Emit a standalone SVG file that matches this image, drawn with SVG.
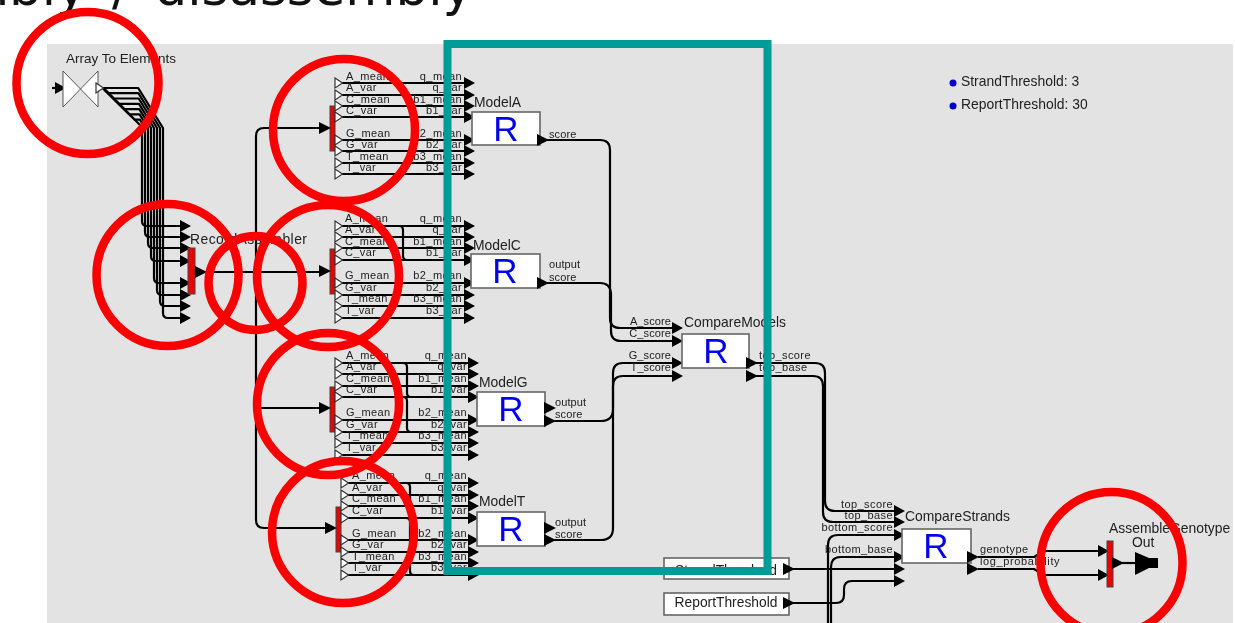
<svg xmlns="http://www.w3.org/2000/svg" width="1235" height="623" viewBox="0 0 1235 623">
<style>
text{font-family:"Liberation Sans",Arial,sans-serif;fill:#222;font-size:11px;letter-spacing:.4px}
.t{font-size:13.9px;letter-spacing:0}
.e{text-anchor:end}
.s{font-size:11px;letter-spacing:.1px}
.r{font-size:35px;fill:#0000f0;text-anchor:middle;letter-spacing:0}
.w{fill:none;stroke:#000;stroke-width:2.2;stroke-linejoin:round}
.box{fill:#fff;stroke:#666;stroke-width:1.6}
.bar{fill:#ee0000;stroke:#444;stroke-width:1}
.wt{fill:#fff;stroke:#333;stroke-width:1.2}
.a{fill:#000}
.ring{fill:none;stroke:#fb0000;stroke-width:8.5}
</style>
<defs>
<polygon id="wt" class="wt" points="0,-5 7.500,0 0,5"/>
<polygon id="bt" class="a" points="0,-6 12,0 0,6"/>
<marker id="m" markerUnits="userSpaceOnUse" markerWidth="12" markerHeight="13" refX="0" refY="6.500" orient="auto" overflow="visible"><path d="M0 0.500L11 6.500L0 12.500Z" fill="#000"/></marker>
<filter id="soft" x="-2%" y="-2%" width="104%" height="104%"><feGaussianBlur stdDeviation="0.45"/></filter>
</defs>
<rect width="1235" height="623" fill="#fff"/>
<rect x="47" y="44" width="1186" height="579" fill="#e3e3e3"/>
<text x="473" y="5" text-anchor="end" style="font-family:'DejaVu Sans',sans-serif;font-size:51.500px;fill:#111;word-spacing:9px;letter-spacing:0">mbly / disassembly</text>

<g filter="url(#soft)">
<g id="connectors">
<g class="w">
<path d="M52 88H55" marker-end="url(#m)"/>
<path d="M103 88L140 125H140.100L142 128V221Q142 226 147 226H180" marker-end="url(#m)"/>
<path d="M103 88L134.700 119.700H139.900L145 128V232Q145 237 150 237H180" marker-end="url(#m)"/>
<path d="M103 88L129.400 114.400H139.600L148 128V243Q148 248 153 248H180" marker-end="url(#m)"/>
<path d="M103 88L124.100 109.100H139.300L151 128V256Q151 261 156 261H180" marker-end="url(#m)"/>
<path d="M103 88L118.800 103.800H139L154 128V278Q154 283 159 283H180" marker-end="url(#m)"/>
<path d="M103 88L113.500 98.500H138.700L157 128V290Q157 295 162 295H180" marker-end="url(#m)"/>
<path d="M103 88L108.200 93.200H138.400L160 128V301Q160 306 165 306H180" marker-end="url(#m)"/>
<path d="M103 88H138.200L163 128V313Q163 318 168 318H180" marker-end="url(#m)"/>
<path d="M203 272H320"/>
<path d="M320 128H264Q256 128 256 136V520Q256 528 264 528H326"/>
<path d="M256 408H320"/>
<path d="M342 83H464" marker-end="url(#m)"/><path d="M342 95H464" marker-end="url(#m)"/><path d="M342 106H464" marker-end="url(#m)"/><path d="M342 117H464" marker-end="url(#m)"/><path d="M342 140H464" marker-end="url(#m)"/><path d="M342 151H464" marker-end="url(#m)"/><path d="M342 163H464" marker-end="url(#m)"/><path d="M342 174H464" marker-end="url(#m)"/>
<path d="M342 226H464" marker-end="url(#m)"/><path d="M342 237H464" marker-end="url(#m)"/><path d="M342 248H464" marker-end="url(#m)"/><path d="M342 260H464" marker-end="url(#m)"/><path d="M342 283H464" marker-end="url(#m)"/><path d="M342 295H464" marker-end="url(#m)"/><path d="M342 306H464" marker-end="url(#m)"/><path d="M342 318H464" marker-end="url(#m)"/>
<path d="M399 226Q403 226 403 230V256Q403 260 407 260"/>
<path d="M342 363H468" marker-end="url(#m)"/><path d="M342 374H468" marker-end="url(#m)"/><path d="M342 386H468" marker-end="url(#m)"/><path d="M342 397H468" marker-end="url(#m)"/><path d="M342 420H468" marker-end="url(#m)"/><path d="M342 432H468" marker-end="url(#m)"/><path d="M342 443H468" marker-end="url(#m)"/><path d="M342 455H468" marker-end="url(#m)"/>
<path d="M403 363Q407 363 407 367V393Q407 397 411 397"/>
<path d="M403 397Q407 397 407 401V428Q407 432 411 432"/>
<path d="M348 483H468" marker-end="url(#m)"/><path d="M348 495H468" marker-end="url(#m)"/><path d="M348 506H468" marker-end="url(#m)"/><path d="M348 518H468" marker-end="url(#m)"/><path d="M348 540H468" marker-end="url(#m)"/><path d="M348 552H468" marker-end="url(#m)"/><path d="M348 563H468" marker-end="url(#m)"/><path d="M348 575H468" marker-end="url(#m)"/>
<path d="M406 483Q410 483 410 487V514Q410 518 414 518"/>
<path d="M406 518Q410 518 410 522V571Q410 575 414 575"/>
<path d="M546 140H600Q610 140 610 150V318Q610 328 620 328H672" marker-end="url(#m)"/>
<path d="M546 283H600Q610 283 611 293V331Q611 341 621 341H672" marker-end="url(#m)"/>
<path d="M553 421H601Q613 421 613 409V373Q613 363 623 363H672" marker-end="url(#m)"/>
<path d="M553 540H601Q613 540 613 528V386Q613 376 623 376H672" marker-end="url(#m)"/>
<path d="M756 363H815Q825 363 825 373V501Q825 511 835 511H894" marker-end="url(#m)"/>
<path d="M756 376H813Q823 376 823 386V512Q823 522 833 522H894" marker-end="url(#m)"/>
<path d="M828 623V545Q828 535 838 535H894" marker-end="url(#m)"/>
<path d="M831 623V567Q831 557 841 557H894" marker-end="url(#m)"/>
<path d="M792 569H894" marker-end="url(#m)"/>
<path d="M792 603H836Q844 603 844 595V589Q844 581 852 581H894" marker-end="url(#m)"/>
<path d="M978 557H1034L1044 551H1098" marker-end="url(#m)"/>
<path d="M978 569H1034L1044 575H1098" marker-end="url(#m)"/>
<path d="M1122 563H1135"/>
</g>
<circle cx="256" cy="272" r="3" fill="#000"/>
<circle cx="256" cy="408" r="3" fill="#000"/>
</g>

<g id="ArrayToElements">
<path d="M63 71L98 107V71L63 107Z" fill="#fff" stroke="#555" stroke-width="1"/>
<use href="#wt" x="96" y="88"/>
<text x="66" y="63" style="font-size:13.500px;letter-spacing:0">Array To Elements</text>
</g>

<g id="RecordAssembler">
<rect class="bar" x="188" y="248" width="7" height="46"/>
<use href="#bt" x="195" y="272"/>
<text class="t" x="190" y="244" textLength="117">RecordAssembler</text>
</g>

<g id="DisassemblerA">
<rect class="bar" x="330" y="106" width="5" height="45"/>
<use href="#bt" x="319" y="128"/>
<use href="#wt" x="335" y="83"/><use href="#wt" x="335" y="95"/><use href="#wt" x="335" y="106"/><use href="#wt" x="335" y="117"/><use href="#wt" x="335" y="140"/><use href="#wt" x="335" y="151"/><use href="#wt" x="335" y="163"/><use href="#wt" x="335" y="174"/>
<text x="346" y="80">A_mean</text><text x="346" y="91">A_var</text><text x="346" y="103">C_mean</text><text x="346" y="114">C_var</text><text x="346" y="137">G_mean</text><text x="346" y="148">G_var</text><text x="346" y="160">T_mean</text><text x="346" y="171">T_var</text>
<text class="e" x="462" y="80">q_mean</text><text class="e" x="462" y="91">q_var</text><text class="e" x="462" y="103">b1_mean</text><text class="e" x="462" y="114">b1_var</text><text class="e" x="462" y="137">b2_mean</text><text class="e" x="462" y="148">b2_var</text><text class="e" x="462" y="160">b3_mean</text><text class="e" x="462" y="171">b3_var</text>
</g>

<g id="DisassemblerC">
<rect class="bar" x="330" y="249" width="5" height="45"/>
<use href="#bt" x="319" y="271"/>
<use href="#wt" x="335" y="226"/><use href="#wt" x="335" y="237"/><use href="#wt" x="335" y="248"/><use href="#wt" x="335" y="260"/><use href="#wt" x="335" y="283"/><use href="#wt" x="335" y="295"/><use href="#wt" x="335" y="306"/><use href="#wt" x="335" y="318"/>
<text x="345" y="222">A_mean</text><text x="345" y="233">A_var</text><text x="345" y="245">C_mean</text><text x="345" y="256">C_var</text><text x="345" y="279">G_mean</text><text x="345" y="291">G_var</text><text x="345" y="302">T_mean</text><text x="345" y="314">T_var</text>
<text class="e" x="462" y="222">q_mean</text><text class="e" x="462" y="233">q_var</text><text class="e" x="462" y="245">b1_mean</text><text class="e" x="462" y="256">b1_var</text><text class="e" x="462" y="279">b2_mean</text><text class="e" x="462" y="291">b2_var</text><text class="e" x="462" y="302">b3_mean</text><text class="e" x="462" y="314">b3_var</text>
</g>

<g id="DisassemblerG">
<rect class="bar" x="330" y="387" width="5" height="45"/>
<use href="#bt" x="319" y="408"/>
<use href="#wt" x="335" y="363"/><use href="#wt" x="335" y="374"/><use href="#wt" x="335" y="386"/><use href="#wt" x="335" y="397"/><use href="#wt" x="335" y="420"/><use href="#wt" x="335" y="432"/><use href="#wt" x="335" y="443"/><use href="#wt" x="335" y="455"/>
<text x="346" y="359">A_mean</text><text x="346" y="370">A_var</text><text x="346" y="382">C_mean</text><text x="346" y="393">C_var</text><text x="346" y="416">G_mean</text><text x="346" y="428">G_var</text><text x="346" y="439">T_mean</text><text x="346" y="451">T_var</text>
<text class="e" x="467" y="359">q_mean</text><text class="e" x="467" y="370">q_var</text><text class="e" x="467" y="382">b1_mean</text><text class="e" x="467" y="393">b1_var</text><text class="e" x="467" y="416">b2_mean</text><text class="e" x="467" y="428">b2_var</text><text class="e" x="467" y="439">b3_mean</text><text class="e" x="467" y="451">b3_var</text>
</g>

<g id="DisassemblerT">
<rect class="bar" x="336" y="507" width="5" height="45"/>
<use href="#bt" x="325" y="528"/>
<use href="#wt" x="341" y="483"/><use href="#wt" x="341" y="495"/><use href="#wt" x="341" y="506"/><use href="#wt" x="341" y="518"/><use href="#wt" x="341" y="540"/><use href="#wt" x="341" y="552"/><use href="#wt" x="341" y="563"/><use href="#wt" x="341" y="575"/>
<text x="352" y="479">A_mean</text><text x="352" y="491">A_var</text><text x="352" y="502">C_mean</text><text x="352" y="514">C_var</text><text x="352" y="537">G_mean</text><text x="352" y="548">G_var</text><text x="352" y="560">T_mean</text><text x="352" y="571">T_var</text>
<text class="e" x="467" y="479">q_mean</text><text class="e" x="467" y="491">q_var</text><text class="e" x="467" y="502">b1_mean</text><text class="e" x="467" y="514">b1_var</text><text class="e" x="467" y="537">b2_mean</text><text class="e" x="467" y="548">b2_var</text><text class="e" x="467" y="560">b3_mean</text><text class="e" x="467" y="571">b3_var</text>
</g>

<g id="ModelA">
<rect class="box" x="472" y="112" width="68" height="33"/>
<text class="r" x="506" y="141">R</text>
<text class="t" x="474" y="107">ModelA</text>
<use href="#bt" x="537" y="140"/>
<text class="s" x="549" y="138">score</text>
</g>
<g id="ModelC">
<rect class="box" x="471" y="254" width="69" height="34"/>
<text class="r" x="505" y="283">R</text>
<text class="t" x="473" y="250">ModelC</text>
<use href="#bt" x="537" y="283"/>
<text class="s" x="549" y="268">output</text><text class="s" x="549" y="281">score</text>
</g>
<g id="ModelG">
<rect class="box" x="477" y="392" width="68" height="34"/>
<text class="r" x="511" y="421">R</text>
<text class="t" x="479" y="387">ModelG</text>
<use href="#bt" x="544" y="408"/><use href="#bt" x="544" y="421"/>
<text class="s" x="555" y="406">output</text><text class="s" x="555" y="418">score</text>
</g>
<g id="ModelT">
<rect class="box" x="477" y="512" width="68" height="34"/>
<text class="r" x="511" y="541">R</text>
<text class="t" x="479" y="506">ModelT</text>
<use href="#bt" x="544" y="528"/><use href="#bt" x="544" y="540"/>
<text class="s" x="555" y="526">output</text><text class="s" x="555" y="538">score</text>
</g>
<g id="CompareModels">
<rect class="box" x="682" y="334" width="67" height="34"/>
<text class="r" x="716" y="363">R</text>
<text class="t" x="684" y="327">CompareModels</text>
<use href="#bt" x="746" y="363"/><use href="#bt" x="746" y="376"/>
<text class="s e" x="671" y="325">A_score</text><text class="s e" x="671" y="337">C_score</text><text class="s e" x="671" y="359">G_score</text><text class="s e" x="671" y="371">T_score</text>
<text x="759" y="359">top_score</text><text x="759" y="371">top_base</text>
</g>
<g id="StrandThreshold">
<rect class="box" x="664" y="558" width="125" height="21"/>
<text x="726" y="575" text-anchor="middle" style="font-size:13.800px;letter-spacing:0">StrandThreshold</text>
<use href="#bt" x="783" y="569"/>
</g>
<g id="ReportThreshold">
<rect class="box" x="664" y="593" width="125" height="22"/>
<text x="726" y="607" text-anchor="middle" style="font-size:13.800px;letter-spacing:0">ReportThreshold</text>
<use href="#bt" x="783" y="603"/>
</g>
<g id="CompareStrands">
<rect class="box" x="902" y="529" width="69" height="34"/>
<text class="r" x="936" y="558">R</text>
<text class="t" x="905" y="521">CompareStrands</text>
<use href="#bt" x="967" y="557"/><use href="#bt" x="967" y="569"/>
<text class="e" x="893" y="508">top_score</text><text class="e" x="893" y="519">top_base</text><text class="e" x="893" y="531">bottom_score</text><text class="e" x="893" y="553">bottom_base</text>
<text x="980" y="553">genotype</text><text x="980" y="565" textLength="80">log_probability</text>
</g>
<g id="AssembleGenotype">
<rect class="bar" x="1107" y="541" width="6" height="46"/>
<use href="#bt" x="1112" y="563"/>
<text class="t" x="1109" y="533">AssembleGenotype</text>
</g>
<g id="Out">
<path d="M1135 552L1149 558H1158V568H1149L1135 575Z" fill="#000"/>
<text class="t" x="1132" y="547">Out</text>
</g>
<g id="Parameters">
<circle cx="953" cy="83" r="3.500" fill="#0000c8"/>
<circle cx="953" cy="106" r="3.500" fill="#0000c8"/>
<text class="t" x="961" y="86">StrandThreshold: 3</text>
<text class="t" x="961" y="109">ReportThreshold: 30</text>
</g>
</g>

<g id="annotations">
<rect x="447.500" y="44" width="320" height="527" fill="none" stroke="#009b98" stroke-width="8"/>
<circle class="ring" cx="87.500" cy="83" r="71"/>
<circle class="ring" cx="167.500" cy="275" r="71"/>
<circle class="ring" cx="255.500" cy="283" r="47"/>
<circle class="ring" cx="344" cy="130" r="71"/>
<circle class="ring" cx="328" cy="276" r="71"/>
<circle class="ring" cx="328" cy="404" r="71"/>
<circle class="ring" cx="343" cy="532" r="71"/>
<circle class="ring" cx="1111.500" cy="563" r="71"/>
</g>
</svg>
